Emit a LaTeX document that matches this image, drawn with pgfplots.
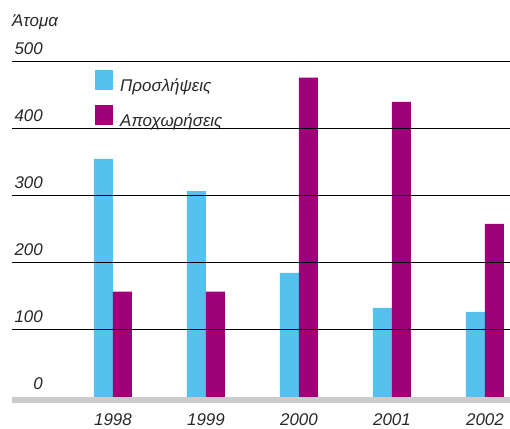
\documentclass[border=0pt]{standalone}
\usepackage{fontspec}
\setmainfont{Liberation Sans}
\usepackage{pgfplots}
\pgfplotsset{compat=1.18}
\definecolor{cblue}{RGB}{86,192,238}
\definecolor{cpurp}{RGB}{158,0,122}
\definecolor{txt}{RGB}{40,40,40}
\definecolor{band}{RGB}{204,204,204}
\newcommand\lbl{\fontsize{17}{20}\selectfont\itshape}
\pgfplotsset{sqlegend/.style={legend image code/.code={%
  \fill[##1] (0bp,-4bp) rectangle (18bp,16bp);
  \path (0bp,0bp) -- (23bp,0bp);}}}

\begin{document}
\begin{tikzpicture}
\useasboundingbox (0,0) rectangle (510bp,429bp);
\begin{axis}[
  at={(12bp,32bp)}, anchor=south west,
  scale only axis, width=498bp, height=335.5bp,
  xmin=-1.086, xmax=4.269, ymin=0, ymax=500,
  axis line style={draw=none},
  ybar=0pt, bar width=19bp,
  xtick={0,...,4}, xticklabels={1998,1999,2000,2001,2002},
  ytick={100,200,300,400,500},
  extra y ticks={0}, extra y tick style={ymajorgrids=false},
  ymajorgrids, grid style={black, line width=1bp},
  axis on top,
  major tick length=0pt,
  tick label style={font=\lbl, text=txt, inner sep=0pt},
  /pgf/number format/assume math mode=true,
  yticklabel style={anchor=south east, xshift=31bp, yshift=7bp},
  xticklabel style={anchor=base, yshift=-28bp},
  clip=false,
  legend style={at={(0.1667,0.9747)}, anchor=north west, draw=none, fill=none,
    inner sep=0pt, font=\lbl, text=txt, row sep=10bp, cells={anchor=west}},
]
% Προσλήψεις
\addplot[fill=cblue, draw=none, sqlegend]
  coordinates {(0,355) (1,307) (2,185) (3,133) (4,127)};
% Αποχωρήσεις
\addplot[fill=cpurp, draw=none, sqlegend]
  coordinates {(0,157) (1,157) (2,476) (3,440) (4,258)};
\legend{Προσλήψεις, Αποχωρήσεις}
\draw[band, line width=5.5bp] ([yshift=-2.75bp]axis description cs:0,0) -- ([yshift=-2.75bp]axis description cs:1,0);
\end{axis}
\node[anchor=base west, inner sep=0pt, font=\lbl, text=txt] at (12bp,402bp) {Άτομα};
\end{tikzpicture}
\end{document}
